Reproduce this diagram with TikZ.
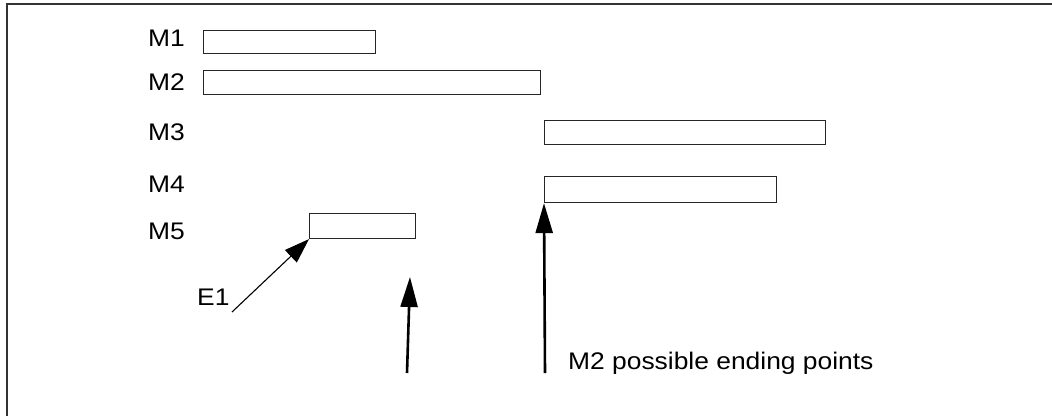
\documentclass[tikz,border=0pt]{standalone}
\usepackage{fontspec}
\setmainfont{Liberation Sans}[FakeStretch=1.1]
\usetikzlibrary{arrows.meta}
\begin{document}
\begin{tikzpicture}[x=1pt,y=-1pt,
  bar/.style={draw=black!85,line width=1.1pt,rectangle,inner sep=0pt,anchor=north west},
  lbl/.style={anchor=base west,inner sep=0pt,font=\fontsize{24}{26}\selectfont},
  bigarrow/.style={line width=2.6pt,-{Triangle[length=30pt,width=17pt]}},
  thinarrow/.style={line width=1.1pt,-{Triangle[length=25pt,width=17pt]}},
  frame/.style={draw=black!80,line width=2pt}]
\useasboundingbox (0,0) rectangle (1052,415);
\draw[frame] (7,430) -- (7,4) -- (1070,4);
% labels
\node[lbl] (l1) at (148,46) {M1};
\node[lbl] (l2) at (148,90) {M2};
\node[lbl] (l3) at (148,140) {M3};
\node[lbl] (l4) at (148,192) {M4};
\node[lbl] (l5) at (148,239) {M5};
% bars
\node[bar,minimum width=172pt,minimum height=23pt] (m1) at (203,30) {};
\node[bar,minimum width=337pt,minimum height=24pt] (m2) at (203,70) {};
\node[bar,minimum width=281pt,minimum height=24pt] (m3) at (544,120) {};
\node[bar,minimum width=232pt,minimum height=26pt] (m4) at (544,176) {};
\node[bar,minimum width=106pt,minimum height=25pt] (m5) at (309,213) {};
% E1
\node[lbl] (e1) at (197,305) {E1};
\coordinate (e1s) at (232,312);
\draw[thinarrow] (e1s) -- (m5.south west);
% middle arrow
\coordinate (a2s) at (407,373);
\coordinate (a2e) at (410,277);
\draw[bigarrow] (a2s) -- (a2e);
% right arrow
\coordinate (a3s) at (545,373);
\draw[bigarrow] (a3s) -- (m4.south west);
\node[lbl] (txt) at (568,369) {M2 possible ending points};
\end{tikzpicture}
\end{document}
